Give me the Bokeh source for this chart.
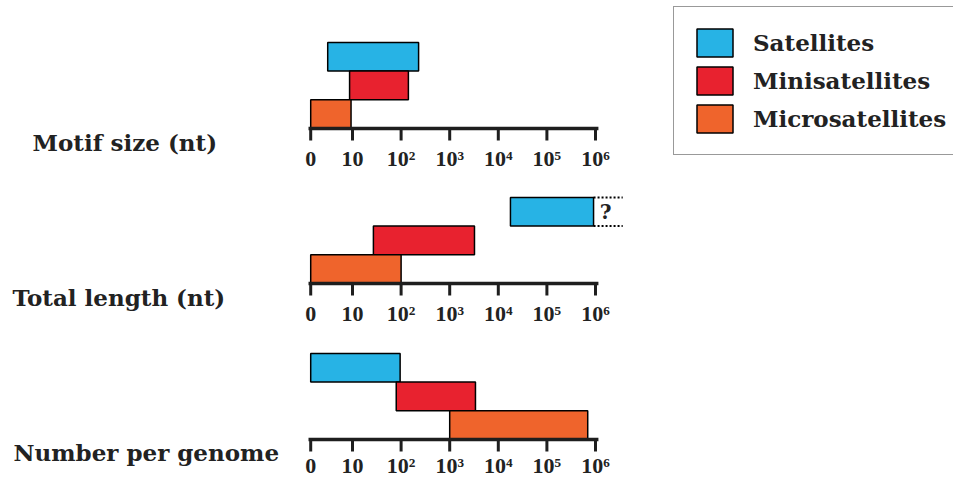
from bokeh.plotting import figure
from bokeh.models import Range1d, Legend, LegendItem
from bokeh.core.properties import value
from bokeh.embed import file_html
from bokeh.resources import INLINE

# ---------------- data ----------------
series = ["Satellites", "Minisatellites", "Microsatellites"]
colors = ["#27B3E5", "#E8222F", "#EF642C"]
rows = [2, 1, 0]  # stacking row of each series inside a panel

tick_pos = [0.14, 1, 2, 3, 4, 5, 6]          # log10 position ("0" = axis origin)
tick_labels = ["0", "10", "10²", "10³", "10⁴", "10⁵", "10⁶"]

panel_titles = ["Motif size (nt)", "Total length (nt)", "Number per genome"]

# bar extents in log10 units, order: Satellites, Minisatellites, Microsatellites
motif_start = [0.49, 0.94, 0.14]
motif_end = [2.36, 2.15, 0.97]
total_start = [4.25, 1.43, 0.14]
total_end = [5.96, 3.51, 2.0]
number_start = [0.14, 1.9, 3.0]
number_end = [1.98, 3.53, 5.84]
total_sat_uncertain_end = 6.56

# ---------------- layout (pixels) ----------------
W, H = 953, 479
PX_PER_DEC = 48.6
X_TEN = 352.0                      # page x of the "10" tick
X0 = 1 - X_TEN / PX_PER_DEC
X1 = X0 + W / PX_PER_DEC
ROW_PX = 28.7
panel_base = [128, 283, 439]       # page y of each axis line
label_off = [30, 30, 26]           # tick-label centre below the axis line
title_x_px = [32, 12, 13]
title_y_off = [14, 14, 13]
SERIF = "DejaVu Serif"
DIGITS = "Liberation Serif"
INK = "#1e1e1e"


def px_to_x(px):
    return X0 + px / PX_PER_DEC


p = figure(width=W, height=H, x_range=Range1d(X0, X1), y_range=Range1d(H, 0),
           output_backend="svg", toolbar_location=None,
           x_axis_location=None, y_axis_location=None,
           min_border_left=0, min_border_right=0, min_border_top=0, min_border_bottom=0)
p.grid.visible = False
p.outline_line_color = None
p.background_fill_color = "white"
p.border_fill_color = "white"

axis_start = tick_pos[0] - 0.045
axis_end = tick_pos[-1] + 0.06

panels = [(motif_start, motif_end), (total_start, total_end), (number_start, number_end)]
bar_renderers = []
for k, (starts, ends) in enumerate(panels):
    base = panel_base[k]
    r = p.quad(left=starts, right=ends,
               bottom=[base - v * ROW_PX for v in rows],
               top=[base - (v + 1) * ROW_PX for v in rows],
               fill_color=colors, line_color="black", line_width=1.5)
    bar_renderers.append(r)
    # axis line
    p.segment(x0=[axis_start], x1=[axis_end], y0=[base], y1=[base],
              line_color=INK, line_width=3.5)
    # ticks
    p.segment(x0=tick_pos, x1=tick_pos, y0=[base - 1] * len(tick_pos),
              y1=[base + 12] * len(tick_pos), line_color=INK, line_width=3)
    # tick labels
    p.text(x=tick_pos, y=[base + label_off[k]] * len(tick_pos), text=tick_labels,
           text_font=value(DIGITS), text_font_style="bold", text_font_size="22px",
           text_align="center", text_baseline="middle", text_color="#222222")
    # panel title
    p.text(x=[px_to_x(title_x_px[k])], y=[base + title_y_off[k]], text=[panel_titles[k]],
           text_font=value(SERIF), text_font_style="bold", text_font_size="23px",
           text_align="left", text_baseline="middle", text_color="#222222")

# uncertain upper bound of satellite total length
base2 = panel_base[1]
p.segment(x0=[total_end[0]] * 2, x1=[total_sat_uncertain_end] * 2,
          y0=[base2 - rows[0] * ROW_PX, base2 - (rows[0] + 1) * ROW_PX],
          y1=[base2 - rows[0] * ROW_PX, base2 - (rows[0] + 1) * ROW_PX],
          line_color="black", line_width=2, line_dash="2 2")
p.text(x=[(total_end[0] + total_sat_uncertain_end) / 2 - 0.05],
       y=[base2 - (rows[0] + 0.5) * ROW_PX], text=["?"], text_font=value(SERIF),
       text_font_style="bold", text_font_size="20px",
       text_align="center", text_baseline="middle", text_color="#222222")

legend = Legend(items=[LegendItem(label=s, renderers=[bar_renderers[0]], index=i)
                       for i, s in enumerate(series)],
                location=(673, H - 155), orientation="vertical",
                border_line_color="#333333", border_line_width=1.5,
                padding=18, spacing=3, margin=0,
                glyph_width=45, glyph_height=35, label_standoff=16,
                label_text_font=SERIF, label_text_font_style="bold",
                label_text_font_size="23px", label_text_color="#222222",
                background_fill_color="white", background_fill_alpha=1)
p.add_layout(legend)

open("out.html", "w").write(file_html(p, INLINE))
